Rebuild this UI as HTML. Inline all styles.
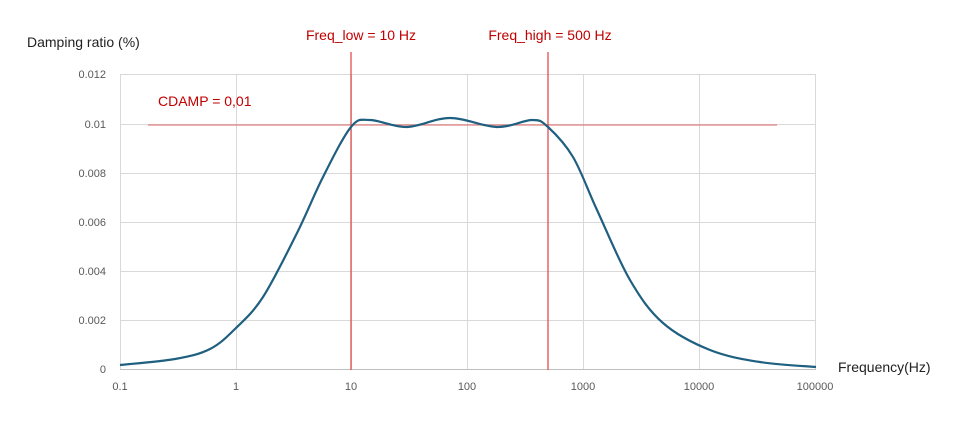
<!DOCTYPE html>
<html><head><meta charset="utf-8"><style>
body{margin:0;background:#fff;width:975px;height:418px;overflow:hidden;font-family:"Liberation Sans",sans-serif}
</style></head><body>
<svg width="975" height="418" xmlns="http://www.w3.org/2000/svg" font-family="Liberation Sans, sans-serif">
<g stroke="#d9d9d9" stroke-width="1">
<line x1="120" y1="74.5" x2="816" y2="74.5"/>
<line x1="120" y1="124.5" x2="816" y2="124.5"/>
<line x1="120" y1="173.5" x2="816" y2="173.5"/>
<line x1="120" y1="222.5" x2="816" y2="222.5"/>
<line x1="120" y1="271.5" x2="816" y2="271.5"/>
<line x1="120" y1="320.5" x2="816" y2="320.5"/>
<line x1="120.5" y1="74" x2="120.5" y2="370"/>
<line x1="236.5" y1="74" x2="236.5" y2="370"/>
<line x1="351.5" y1="74" x2="351.5" y2="370"/>
<line x1="467.5" y1="74" x2="467.5" y2="370"/>
<line x1="583.5" y1="74" x2="583.5" y2="370"/>
<line x1="699.5" y1="74" x2="699.5" y2="370"/>
<line x1="815.5" y1="74" x2="815.5" y2="370"/>
</g>
<line x1="120" y1="369.5" x2="816" y2="369.5" stroke="#bfbfbf"/>
<g fill="#595959" font-size="11" text-anchor="end">
<text x="106" y="78">0.012</text>
<text x="106" y="128">0.01</text>
<text x="106" y="177">0.008</text>
<text x="106" y="226">0.006</text>
<text x="106" y="275">0.004</text>
<text x="106" y="324">0.002</text>
<text x="106" y="373">0</text>
</g>
<g fill="#595959" font-size="11" text-anchor="middle">
<text x="120" y="390">0.1</text>
<text x="236" y="390">1</text>
<text x="351" y="390">10</text>
<text x="467" y="390">100</text>
<text x="583" y="390">1000</text>
<text x="699" y="390">10000</text>
<text x="815" y="390">100000</text>
</g>
<text x="27" y="47" font-size="14" fill="#222">Damping ratio (%)</text>
<text x="838" y="372" font-size="14" fill="#222">Frequency(Hz)</text>
<line x1="148" y1="125" x2="777" y2="125" stroke="#e08080" stroke-width="1.2"/>
<line x1="351" y1="52" x2="351" y2="370" stroke="#e04040" stroke-width="1.2"/>
<line x1="548" y1="52" x2="548" y2="370" stroke="#e04040" stroke-width="1.2"/>
<text x="158" y="106" font-size="14" fill="#c00000">CDAMP = 0,01</text>
<text x="361" y="40" font-size="14" fill="#c00000" text-anchor="middle">Freq_low = 10 Hz</text>
<text x="550" y="40" font-size="14" fill="#c00000" text-anchor="middle">Freq_high = 500 Hz</text>
<path id="c" d="" fill="none" stroke="#1f5f80" stroke-width="2.2"/>
</svg>
<script>
var p=[[120,365],[175,359],[210,349],[236,328],[263,297],[297,233],[323,177],[351,127],[370,120],[407,127],[450,118],[497,127],[532,120],[548,127],[573,157],[597,210],[630,280],[663,323],[710,350],[760,362],[816,367]];
var d="M"+p[0][0]+","+p[0][1];
for(var i=0;i<p.length-1;i++){var a=p[i-1]||p[i],b=p[i],c=p[i+1],e=p[i+2]||c;
d+=" C"+(b[0]+(c[0]-a[0])/6).toFixed(1)+","+(b[1]+(c[1]-a[1])/6).toFixed(1)+" "+(c[0]-(e[0]-b[0])/6).toFixed(1)+","+(c[1]-(e[1]-b[1])/6).toFixed(1)+" "+c[0]+","+c[1];}
document.getElementById("c").setAttribute("d",d);
</script>
</body></html>
